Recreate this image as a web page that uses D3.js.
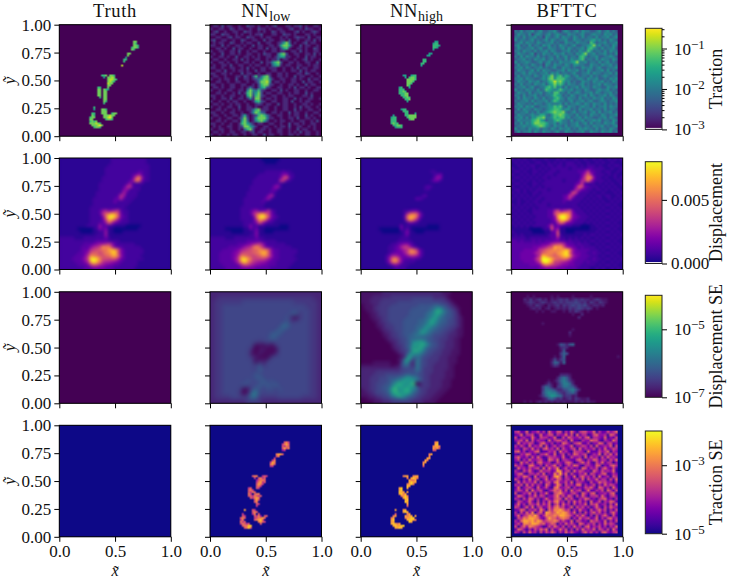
<!DOCTYPE html>
<html><head><meta charset="utf-8">
<style>html,body{margin:0;padding:0;background:#fff}svg{display:block}text{font-family:"Liberation Serif",serif;fill:#111}</style>
<script src="https://cdn.jsdelivr.net/npm/d3@7/dist/d3.min.js"></script></head><body>
<script>
const columnTitles=[["Truth"],["NN","low"],["NN","high"],["BFTTC"]];
const rowLabels=["Traction","Displacement","Displacement SE","Traction SE"];
const xTicks=[0,0.5,1];
const yTicks=[0,0.25,0.5,0.75,1];

// Single characters are colour levels per cell, top row first, "." = lowest.
const truthTraction=["","",".......................77",".......................76",".......................776","......................6776","......................76","","....................77","....................7","...................5","..................66","..................6","",".................8","","","","",".......667.776","........5.7787","..........78876","..........7876","..........877","..........77",".....66...7",".....77.765",".....77.77",".....77.77",".....77.77","......6.77","........77","........76","........6","","...6","...5...776",".......777","..66...777..677","..76....777877",".677....77897",".77......6776",".6767",".777876","..777897","...6776"];
const nnHighTraction=["","",".......................55","......................566","......................6665","......................665","......................5","","....................55","...................55","",".................66",".................66","................66","................5","","","","",".......55..566","........5.6776",".........77776",".........7776",".........776",".........76",".....56...5",".....666",".....6676",".....66677","......6677",".......6676","........667",".........5","","","","......566",".......666","........66...5","..5.....667777",".566.....67777",".666......677",".666",".6766","..66776","...5666"];
const nnLowTractionSE=["","",".......................564","......................4675","......................5465","......................5756","......................34","","...................6775","...................56","..................4",".................46","................476","................675","................44","","","","",".......566..454","........4.5645",".........35665",".........46745",".........5764",".........564",".....45..54",".....564",".....5465",".....64.566",".....5546545","......54676","........574","........56",".........54",".........4","","...7...54",".......565","..4....46.5","..54....5463.55",".565....456675",".46.....56785",".645......6754",".46545.....5","..56688","...5685"];
const nnHighTractionSE=["","",".......................67",".......................78","......................6776","......................7675","......................55","","....................67","....................6","...................77","..................76",".................67",".................7",".................5","","","","",".......677..677",".........6.7876","..........7667","..........7877",".........6786",".........87",".....78..7",".....78",".....877.7",".....7867","......6786",".......787","........78","........87",".........7",".........5","","...7...77",".......787","...5.....67","..67....7677.7",".67.....67788",".78......78876",".77.......87",".78767","..787788","...7787"];
const nnLowTraction=["0110201100100211010010120001101120100110","1001100210110010021101001100120010211001","0120010011002110010100210110001201001210","1100211001010010112000110021101000110100","0011001201100211001011000101001211020011","1200110010021001100201100110200100110201","0101100210010110020011001257301001201100","1100201001101002011001101577510020110010","0011010020110010011020110256100110100210","1001100110200101100100110110011020100110","0100200110100110010211003672001100110201","1001101002001101010011013551100100201100","0110010011020100110010113011001001201001","1001101001001101002011467200110100110020","0100110200110010110010356101100110010110","1100100110010201001101110010010201100110","0011020010110100201100110010011020101100","1100110100020110010011001101000110210010","0110010001102102613672001101002011001001","1001011002001101235774100110011010020110","0011001001100100137784011010011002011001","1100100110011001026772100100110100201100","0110100110010131025621001100102011010011","1001001100110474362100110201001100100110","0011010010201673572011001100101100201000","1100100110010572672100110010110001102000","0100110200110141771011010011002010011001","1001001011001001562100110011020010110000","0110100101100100121011002011001001101001","1001001100200110100110010011001020110010","0011010010100113671110010011002010011001","1100100110010014763200110100201100100110","0110010011025101267631001100101100201001","1001001100137201577741100100110200110100","0011010011057301467520010110010011001020","1100100100167531011001100100201101001100","0101001100127753100110010110200110010100","1001100100103672001101001100100201100100","0110100110011012011001001100101020110010","1001001011001001100201100100110100110010"];
const bfttcTraction=["4353445345334453245434535443345345343","3544352454345345433544345334544354534","4435344534254345354435435344353445345","5344345343453543445335443445645343543","3453544354344534335443544437534453445","4534353443545343544345334456845344354","3543445345335443453543445367543534453","4435443534453543344534354475344353544","3544345243544354453443546844534453435","4353544353434435345344367534453344543","3445343544534534435354467344353544354","5344543345345343544456844534435345343","3534435434254354435435544335443544534","4453543445343453354434335445345334445","3544345353544334453544534354344535343","4345354434453545344345334453544344535","3534443543546846746534534435343454344","4453544334547857775443454354453343545","3544354453446797864534335443544534354","4353443544535686753544345343445354434","3445345334467574535344535443544335445","5343544353476545754453443543345445343","3544353445345477443534543445354344534","4435344534344576534354344535434453543","3535443543534467543544353443544534354","4344535344453576443453445345334543445","3544343544345444535344543543544353434","4453545334445576743544345443534453544","3535443544345677645534353445344353443","4344534353456787784345344534535344534","3544345446643577875443534435443543445","4453535577844576774534453544334453543","3544446786534467644353445344545344354","4353546887764453544344534535344354453","3445445678754354435344543443544534345","5344354453443543544534354544353443543","3534453543544345335443445335443544534"];
const bfttcTractionSE=["4522613352416325514263145533614225346","2361445126235514336251624412563341652","5134226315442361152643352561443261325","3452615243316245534162214336552143264","1624354125632413265314562241336514523","4253162436151352442361335425162343615","3315426241563426153245162433514262354","5624133561224351634215443162225346143","2143652314463261351426534512436153625","4632415263125443262153341625341526342","3514263345216536144322563143652441536","2163524156334125325641246352153624413","5342166324153462413536521443265132564","1634253451626347135242316524351463252","4215363126344238724516354231642534361","3562144352613274836152243615423561243","2436531624451378515326146342516234154","5314262451362436524413526153362441526","1625343615245267335261443215236453314","4351625243164137515342661423514263542","2613453162352167334514232546316524163","3542616345213465625163451362243516425","5124362514362156743245316425613342561","2653143625413357352641526314452631453","4315265241363256516352143652314562314","1542363151426367341526352416235143652","3624154362536146263415243615462341526","5413626145236367452361535241363152643","2365143527416477864514263315246351425","4152637146287568787536141524635241463","3624576852476676887642536314152463152","1547688763258664676514263452361425634","4268878687456676353261542316453261425","3527768875634651426353165243514263541","5146376543125364251426341562435241436","2653142536461523635141526343615425163","4315263415253641426353214635241563245"];
const truthDisplacement=["11111 11111 11111 11222 22222 22221 11111 11","11111 11111 11111 11222 22222 22221 11111 11","11111 11111 11111 12222 22222 22222 11111 11","11111 11111 11111 22222 22222 22222 11111 11","11111 11111 11111 22222 22222 23322 11111 11","11111 11111 11111 22222 22223 46322 11111 11","11111 11111 11112 22222 22224 ad622 11111 11","11111 11111 11112 22222 22236 cb422 11111 11","11111 11111 11122 22222 22362 22211 11111 11","11111 11111 11122 22222 23783 22111 11111 11","11111 11111 11122 22222 25622 22111 11111 11","11111 11111 11222 22222 37322 21111 11111 11","11111 11111 11222 22223 86222 21111 11111 11","11111 11111 12222 22234 73222 11111 11111 11","11111 11111 12222 22242 22221 11111 11111 11","11111 11111 12222 22222 22211 11111 11111 11","11111 11111 22222 22222 22111 11111 11111 11","11111 11111 22236 75678 32211 11111 11111 11","11111 11111 22238 bdfea 42211 11111 11111 11","11111 11111 22225 cijgb 43211 11111 11111 11","11111 11111 22224 9fea6 32211 11111 11111 11","11111 11111 22233 6b743 22211 11111 11111 11","11111 11112 22263 32211 11000 00111 11111 11","11111 10000 01253 51100 00000 01111 11111 11","11111 11000 01122 61100 01111 11111 11111 11","11111 11111 11222 61111 11111 11111 11111 11","22222 11122 22222 42111 11111 11111 11111 11","22222 22222 22333 32222 11111 11111 11111 11","22222 22233 34566 78632 22222 11111 11111 11","22222 22333 5789e dd843 32222 22111 11111 11","22222 22344 89abc cfgfb 53222 22211 11111 11","22222 23346 abb9b ddgha 53222 22211 11111 11","22222 33358 edcba bcefc 63222 22111 11111 11","22223 33469 ijhda a9aa7 43222 22211 11111 11","22222 33357 fifc8 77654 32222 21111 11111 11","22222 23334 8a976 54433 22222 21111 11111 11","22222 22233 34444 33322 22222 11111 11111 11"];
const nnLowDisplacement=["11111 11111 11111 11000 00011 11111 11111 11","11111 11111 11111 11100 00111 11111 11111 11","1","1","11111 11111 11111 11122 22223 22111 11111 11","11111 11111 11111 12222 22235 52211 11111 11","11111 11111 11111 22222 22249 a3211 11111 11","11111 11111 11112 22222 22288 32111 11111 11","11111 11111 11112 22222 22321 11111 11111 11","11111 11111 11122 22222 25621 11111 11111 11","11111 11111 11122 22222 34211 11111 11111 11","11111 11111 11222 22222 32111 11111 11111 11","11111 11111 11222 22225 72111 11111 11111 11","11111 11111 12222 22246 21111 11111 11111 11","11111 11111 12222 22321 11111 11111 11111 11","11111 11111 12222 22211 11111 11111 11111 11","11111 11111 22222 22211 11111 11111 11111 11","11111 11111 22235 63458 32111 11111 11111 11","11111 11111 22237 adeb8 42111 11111 11111 11","11111 11111 22224 chjfa 43211 11111 11111 11","11111 11111 22223 8eda5 32111 11111 11111 11","11111 11111 12223 5a632 21111 11111 11111 11","11111 11111 12252 31211 11100 01111 11111 11","11111 00000 01142 41100 00000 01111 11111 11","11111 11000 01112 51100 01111 11111 11111 11","11111 11111 11122 51111 11111 11111 11111 11","22222 11122 22222 42211 11111 11111 11111 11","22222 22222 22333 33222 22111 11111 11111 11","22222 22223 33456 78632 22222 11111 11111 11","22222 23333 4678c eb843 32222 22111 11111 11","22223 33345 789ab bedda 53322 22221 11111 11","22233 33456 9aaab cdgfa 53322 22221 11111 11","22233 33458 dcba9 abdda 63322 22211 11111 11","22233 33469 hifc9 99986 43322 22221 11111 11","22233 33358 ehda8 76654 33222 22211 11111 11","22223 33334 79976 55443 33222 22111 11111 11","22222 33333 44444 33333 22222 21111 11111 11"];
const nnHighDisplacement=["1","1","1","1","11111 11111 11111 11111 11122 11111 11111 11","11111 11111 11111 11111 11112 34111 11111 11","11111 11111 11111 11111 11113 65111 11111 11","11111 11111 11111 11111 11124 42111 11111 11","1","11111 11111 11111 11111 12321 11111 11111 11","11111 11111 11111 11111 12211 11111 11111 11","1","11111 11111 11111 11111 23111 11111 11111 11","11111 11111 11111 11133 21111 11111 11111 11","1","1","1","11111 11111 11112 23442 11111 11111 11111 11","11111 11111 11112 7bcb6 21111 11111 11111 11","11111 11111 11113 cgfc5 21111 11111 11111 11","11111 11111 11112 9eb73 11111 11111 11111 11","11111 11111 11111 24321 11111 11111 11111 11","11111 11111 11141 21111 11000 01111 11111 11","11111 10000 00041 31000 00000 01111 11111 11","11111 11000 00012 51100 01111 11111 11111 11","11111 11111 11112 41111 11111 11111 11111 11","11111 11111 11122 21111 11111 11111 11111 11","11111 11111 11222 22111 11111 11111 11111 11","11111 11111 22345 53211 11111 11111 11111 11","11111 11112 23479 96321 11111 11111 11111 11","11111 11112 23457 8dc94 21111 11111 11111 11","11111 11112 34446 9ddb5 21111 11111 11111 11","11111 11124 77644 57764 21111 11111 11111 11","11111 11126 cea53 32322 11111 11111 11111 11","11111 11125 bd952 22211 11111 11111 11111 11","11111 11112 35422 21111 11111 11111 11111 11","11111 11111 12222 11111 11111 11111 11111 11"];
const bfttcDisplacement=["21212 11211 12111 21211 12112 11212 11212 12","12121 21122 11212 12122 21211 21121 21121 11","11212 12211 21221 22122 22121 22212 11212 21","21121 21212 12122 22221 22222 33222 21121 12","12212 11221 21222 12222 22335 84322 12211 21","21121 21212 12221 22222 22247 b7322 21212 11","12212 12121 22122 22222 22259 dc522 12112 12","21121 21212 12222 22122 22378 c7322 21211 21","12212 11221 22222 22222 23583 22212 12121 12","21121 21212 12222 22222 25a94 32221 21212 11","12212 12122 22122 22222 37743 22122 12121 21","21212 11221 22222 22224 98322 21211 21112 12","12121 21212 22222 22348 73222 12122 12211 21","21212 12122 12222 22357 32221 21212 11212 12","11211 21221 22222 22322 22212 12121 21121 21","21212 12122 22122 22222 22121 21212 12212 11","12121 21212 22222 22222 22212 12121 21121 21","21212 11222 22337 96789 42221 21212 12212 12","12121 21222 22339 cefeb 53222 12121 21121 21","21212 12122 22336 ejjgc 54322 21212 12212 12","12121 21222 22235 bghe8 43222 12121 21121 21","21212 12122 22233 7b954 32221 21212 12212 11","12121 21222 22483 43222 11100 01121 21121 21","11111 10000 12294 61100 00000 01112 12212 11","21111 11000 01134 91100 01111 11121 21121 21","12121 11111 11233 92111 11112 12212 12212 12","22222 12222 22233 62212 12121 21121 21121 21","33232 22323 23334 43323 22212 12212 12212 11","33333 33333 44578 99743 32322 21121 21121 21","33333 33445 679af eea65 43232 22212 12212 12","33334 44458 9bcde defgc 64333 32221 21121 21","33344 44578 bcddc efhib 64433 22322 12212 11","33344 44469 gfdcb ceghd 75433 32221 21121 21","33344 4458b jjifc bbcb8 54333 22322 12212 12","33334 44469 hjhe9 98765 43332 32221 21121 21","33333 34445 9cb98 76554 43322 22212 12212 11","33333 33334 45555 44433 33222 21121 21121 21"];
const nnLowDispSE=["2222222222222222222222222222","2233333333333333333333333322","2333333344444444444443333332","2334444444444444444444443332","2334444444444444444444444332","2334444444444444444456344332","2334444444444444444520344332","2334444444444444444534444332","2334444444444444447644444332","2334444444444444465444444332","2334444444444445654444444332","2334444444444446544444444332","2334444444443444444444444332","2334444444401020344444444332","2334444444201201044444444332","2334444444102010244444444332","2334444444320104444444444332","2334444444403144444444444332","2334444444445344444444444332","2334444444436444444444444332","2334444444454444444444444332","2334444444456444444444444332","2334444445444645444444444332","2334444454446464644444444332","2334444401464445354444444332","2334444302784444444444444332","2333344444763333344444433332","2222222223333222222222222222"];
const nnHighDispSE=["11111 11222 22222 22222 22222 22111 00000 00","11112 22222 33333 33333 33332 22210 00000 00","11122 22333 33333 33444 44443 33321 00000 00","11122 23333 33444 44444 44444 44332 10000 00","01112 23333 44444 44445 55556 65543 21000 00","01112 33334 44444 44555 55567 99654 32100 00","00112 23334 44444 45555 55679 cb865 43100 00","00011 23334 44444 45555 56789 b8755 43200 00","00011 22334 44444 55555 5678b 97655 43210 00","00001 12334 44445 55556 678ba 86654 43210 00","00000 12233 44445 55556 679b9 76554 43210 00","00000 11233 34445 55566 79a87 65544 33210 00","00000 01223 34445 55567 8a876 55443 32110 00","00000 00122 33445 55668 b9765 54433 22110 00","00000 00112 33445 56687 76654 44332 22110 00","00000 00012 23344 56666 66554 43332 21100 00","00000 00001 22344 5699b a8554 43322 21100 00","00000 00000 12334 56ab9 ca855 43322 21100 00","00000 00000 12234 57b8c a7554 43322 21100 00","00000 00000 01233 46bca 96544 33222 11100 00","00000 00000 00123 59a89 65443 33222 11100 00","00000 00000 00012 8b676 54433 32221 11000 00","00000 00000 00127 b8367 44333 32221 11000 00","00001 11111 00037 93286 44333 22221 11000 00","11111 11111 01146 64276 44332 22221 10000 00","22222 22222 22234 44476 43332 22221 10000 00","22222 33333 33344 45465 43332 22211 10000 00","22223 33344 44445 65554 43322 22211 10000 00","22233 34445 55678 aa875 43322 22211 10000 00","22233 34445 6789b a9a76 43322 22111 00000 00","22233 44455 79cba 9bd00 33322 22111 00000 00","22233 44556 9cab9 ba973 33322 22111 00000 00","12233 44557 bd9ab ca864 33222 21110 00000 00","11223 44456 acb9b b9654 33222 11100 00000 00","11122 33445 89cb9 76543 32221 11000 00000 00","00111 22334 45566 54433 22211 10000 00000 00","00001 11222 33333 33222 21111 00000 00000 00"];
const bfttcDispSE=["0000000000000000000000000000000000000","0000010100000101000010000010000000000","0000213123120212323123232212321100000","0000123212321232323334323132132100000","0000012132102123132343434212212000000","0000001212012012121323432320100000000","0000000010100110010213210100000000000","0000000000000000000010020000000000000","0000000000000000000000200000000000000","0000000000000000000000000000000000000","0000000000100000000000000000000000000","0000000000000000000000000000000000000","0000000000000000000010000000000000000","0000000000000000000200000000000000000","0000000000000000000100000000000000000","0000000000000000000000000000000000000","0000000000000000000000000000000000000","0000000000000001542560000000000000000","0000000000000000232000000000000000000","0000000000000000150000000000000000000","0000000000000000364000000000000000000","0000000000000010260000000000000000010","0000000000000141350000000000000000000","0000000000000265160000000000000000000","0000000000000132000000000000000000000","0000000000000000000000000000000000000","0000000000000000000000000000000000000","0000000000000000222100000000000000000","0000000000000002575200000000000000000","0000000000001013686310000000000000000","0000000000013102588620000000000000000","0000000000365203477652000000000000000","0000000000377642245785200000000000000","0000000000479885324563000000000000000","0000000001368a97623312000000000000000","0000000000125642312313211200000000000","0000101012121212121112121211000000000"];

const panelLefts=[59.3,210,360.7,511.2];
const panelTops=[24.7,158,291.8,425.3];
const panelSize=111.5;
const sparseLeft=14, sparseTop=6, sparseSize=56;
const W=729,H=580;

const svg=d3.select("body").append("svg").attr("width",W).attr("height",H).attr("viewBox",`0 0 ${W} ${H}`);
const defs=svg.append("defs");

const rowNorms=[
 d3.scaleLog().domain([1e-3,0.316]).range([0,1]),
 d3.scaleLinear().domain([0,0.008]).range([0,1]),
 d3.scaleLog().domain([1e-7,1e-4]).range([0,1]),
 d3.scaleLog().domain([1e-5,1e-2]).range([0,1])];
const rowMaps=[d3.interpolateViridis,d3.interpolatePlasma,d3.interpolateViridis,d3.interpolatePlasma];

function expandSparse(rows){
  return d3.range(sparseSize).map(r=>{
    const src=rows[r-sparseTop]||"";
    return ".".repeat(sparseLeft)+src.padEnd(sparseSize-sparseLeft,".");
  });
}
// [grid, level count, inset frame, softening in px]
const panels=[
 [[expandSparse(truthTraction),9,false,0],[nnLowTraction,9,false,0],[expandSparse(nnHighTraction),9,false,0],[bfttcTraction,10,true,0]],
 [[truthDisplacement,19,false,1.3],[nnLowDisplacement,19,false,1.3],[nnHighDisplacement,19,false,1.3],[bfttcDisplacement,19,false,0.8]],
 [[["0"],19,false,0],[nnLowDispSE,19,false,2],[nnHighDispSE,19,false,1.5],[bfttcDispSE,19,false,0]],
 [[["0"],9,false,0],[expandSparse(nnLowTractionSE),9,false,0],[expandSparse(nnHighTractionSE),9,false,0],[bfttcTractionSE,10,true,0]]];

function gridImage(rows,maxLevel,norm,cmap,soften){
  const n=rows.length, cv=document.createElement("canvas");
  cv.width=n;cv.height=n;
  const ctx=cv.getContext("2d");
  const px=d3.scaleBand().domain(d3.range(n)).range([0,n]);
  rows.forEach((raw,r)=>{
    const row=raw.replace(/ /g,"");
    const s=row.padEnd(n,row.length?row[row.length-1]:"0");
    d3.range(n).forEach(c=>{
      const ch=s[c];
      const lvl=ch==="."?0:parseInt(ch,36);
      const value=norm.invert(lvl/maxLevel);
      ctx.fillStyle=cmap(norm(value));
      ctx.fillRect(px(c),px(r),1,1);
    });
  });
  if(!soften) return cv.toDataURL();
  const big=document.createElement("canvas"), size=224;
  big.width=size;big.height=size;
  const b=big.getContext("2d");
  b.imageSmoothingEnabled=true;b.imageSmoothingQuality="high";
  b.drawImage(cv,0,0,size,size);
  b.filter=`blur(${soften*2}px)`;
  b.drawImage(big,0,0);
  return big.toDataURL();
}

function titleText(sel,parts){
  sel.append("tspan").text(parts[0]);
  if(parts[1]) sel.append("tspan").attr("dy",4).attr("font-size",14).attr("letter-spacing",0).text(parts[1]);
}
function sciLabel(g,exp){
  const t=g.append("text").attr("x",12).attr("y",5.5).attr("font-size",17);
  t.append("tspan").text("10");
  t.append("tspan").attr("dy",-6).attr("font-size",13).text("\u2212"+exp);
}

panelTops.forEach((top,ri)=>{
  panelLefts.forEach((left,ci)=>{
    const x=d3.scaleLinear().domain([0,1]).range([left,left+panelSize]);
    const y=d3.scaleLinear().domain([0,1]).range([top+panelSize,top]);
    const [rows,maxLevel,inset,soften]=panels[ri][ci];
    const g=svg.append("g");
    const norm=rowNorms[ri],cmap=rowMaps[ri];
    g.append("rect").attr("x",x(0)).attr("y",y(1)).attr("width",panelSize).attr("height",panelSize).attr("fill",cmap(0));
    const ex=inset?[0.028,0.955]:[0,1], ey=inset?[0.03,0.952]:[0,1];
    g.append("image").attr("href",gridImage(rows,maxLevel,norm,cmap,soften))
      .attr("x",x(ex[0])).attr("y",y(ey[1])).attr("width",x(ex[1])-x(ex[0])).attr("height",y(ey[0])-y(ey[1]))
      .attr("preserveAspectRatio","none");
    g.append("rect").attr("x",x(0)).attr("y",y(1)).attr("width",panelSize).attr("height",panelSize)
      .attr("fill","none").attr("stroke","#000").attr("stroke-width",1);
    const ax=d3.axisBottom(x).tickValues(xTicks).tickSize(5).tickPadding(3)
      .tickFormat(ri===3?d3.format(".1f"):"");
    const ay=d3.axisLeft(y).tickValues(yTicks).tickSize(5).tickPadding(3)
      .tickFormat(ci===0?d3.format(".2f"):"");
    const gx=g.append("g").attr("transform",`translate(0,${y(0)})`).call(ax);
    const gy=g.append("g").attr("transform",`translate(${x(0)},0)`).call(ay);
    [gx,gy].forEach(a=>{a.select(".domain").remove();
      a.selectAll("text").attr("font-family",'"Liberation Serif",serif').attr("font-size",17).attr("fill","#111");
      a.selectAll("line").attr("stroke","#000");});
    if(ri===0) titleText(svg.append("text").attr("x",x(0.5)).attr("y",16.5).attr("text-anchor","middle").attr("font-size",18.5).attr("letter-spacing",0.7),columnTitles[ci]);
    if(ri===3) svg.append("text").attr("x",x(0.5)).attr("y",576).attr("text-anchor","middle").attr("font-size",16).attr("font-style","italic").text("x\u0303");
    if(ci===0) svg.append("text").attr("transform",`translate(15,${y(0.5)}) rotate(-90)`).attr("text-anchor","middle").attr("font-size",17).attr("font-style","italic").text("y\u0303");
  });
});

// colour bars
const barTops=[28.3,161.7,295.3,431];
const barBottoms=[129.4,263.5,397.3,533.7];
const barLeft=645.3, barWidth=16.7;
const barMajor=[[1e-3,1e-2,1e-1],[0,0.005],[1e-7,1e-5],[1e-5,1e-3]];
const barExp=[["3","2","1"],null,["7","5"],["5","3"]];
const tractionMinor=[2e-3,3e-3,4e-3,5e-3,6e-3,7e-3,8e-3,9e-3,2e-2,3e-2,4e-2,5e-2,6e-2,7e-2,8e-2,9e-2,2e-1,3e-1];
barTops.forEach((top,i)=>{
  const bot=barBottoms[i], norm=rowNorms[i], cmap=rowMaps[i];
  const grad=defs.append("linearGradient").attr("id","cb"+i).attr("x1",0).attr("x2",0).attr("y1",1).attr("y2",0);
  d3.range(0,1.0001,1/32).forEach(t=>grad.append("stop").attr("offset",t).attr("stop-color",cmap(t)));
  const g=svg.append("g");
  g.append("rect").attr("x",barLeft).attr("y",top).attr("width",barWidth).attr("height",bot-top).attr("fill",`url(#cb${i})`);
  if(i<2) g.append("rect").attr("x",barLeft).attr("y",bot-1.5).attr("width",barWidth).attr("height",1.5).attr("fill","#efe8ef");
  g.append("rect").attr("x",barLeft).attr("y",top).attr("width",barWidth).attr("height",bot-top).attr("fill","none").attr("stroke","#222").attr("stroke-width",1);
  const s=norm.copy().range([bot,top]);
  const a=d3.axisRight(s).tickValues(barMajor[i]).tickSize(5).tickPadding(4).tickFormat(i===1?d3.format(".3f"):"");
  const ga=g.append("g").attr("transform",`translate(${barLeft+barWidth},0)`).call(a);
  ga.select(".domain").remove();
  ga.selectAll("line").attr("stroke","#000");
  ga.selectAll("text").attr("font-family",'"Liberation Serif",serif').attr("font-size",17).attr("fill","#111");
  if(barExp[i]) ga.selectAll(".tick").each(function(d,k){
    const tk=d3.select(this); tk.select("text").remove(); sciLabel(tk,barExp[i][k]);
  });
  if(i===0){
    const m=d3.axisRight(s).tickValues(tractionMinor).tickSize(2.5).tickFormat("");
    const gm=g.append("g").attr("transform",`translate(${barLeft+barWidth},0)`).call(m);
    gm.select(".domain").remove(); gm.selectAll("line").attr("stroke","#000");
  }
  svg.append("text").attr("transform",`translate(722,${(top+bot)/2}) rotate(-90)`).attr("text-anchor","middle").attr("font-size",18).text(rowLabels[i]);
});
</script></body></html>
